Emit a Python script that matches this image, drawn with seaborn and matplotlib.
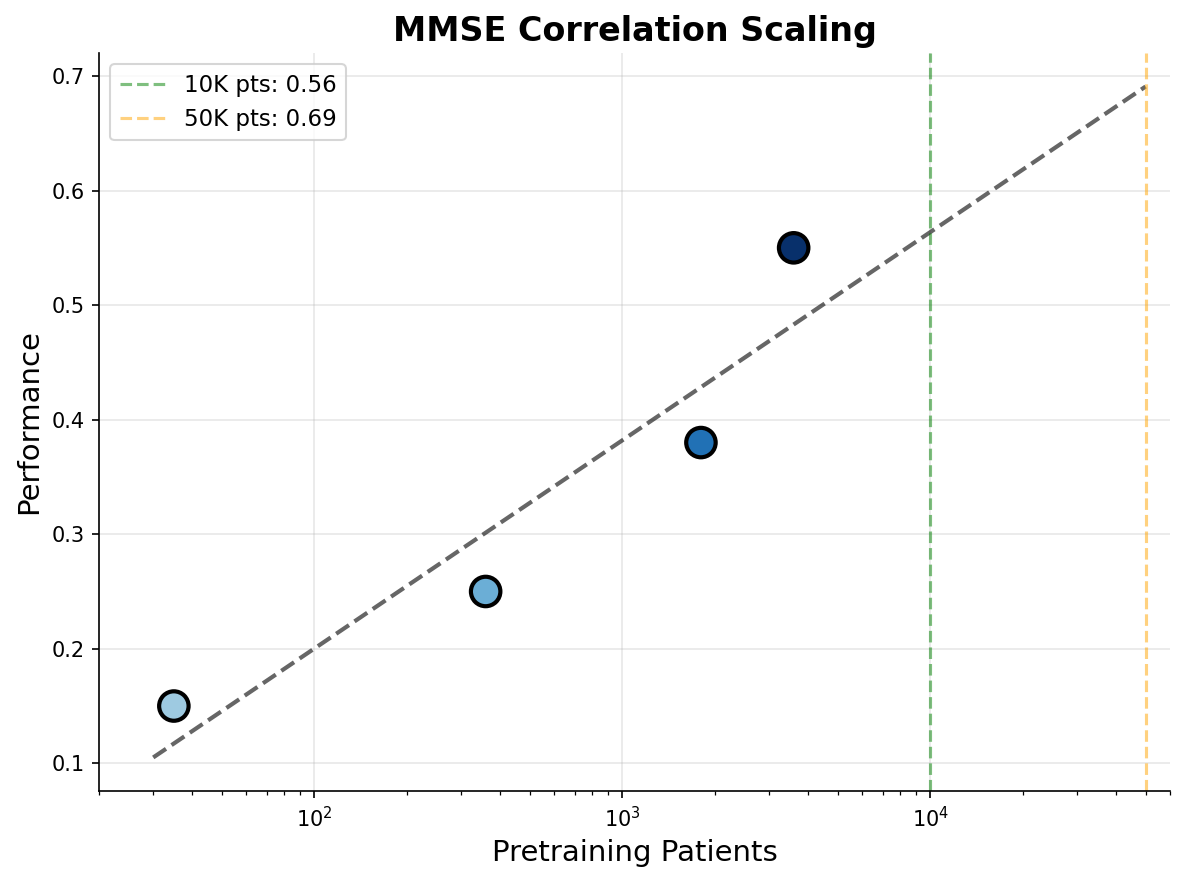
import numpy as np
import pandas as pd
import matplotlib
matplotlib.use("Agg")
import matplotlib.pyplot as plt
import seaborn as sns

# -------------------------------
# Data
# -------------------------------
patients = [35, 360, 1800, 3600]
performance = [0.15, 0.25, 0.38, 0.55]
point_colors = ['#9ecae1', '#6baed6', '#2171b5', '#08306b']
fit_range = [30, 50000]
proj_points = [10000, 50000]
proj_labels = ['10K pts', '50K pts']
proj_colors = ['green', 'orange']

df = pd.DataFrame({'patients': patients, 'performance': performance})

# -------------------------------
# Log-linear fit
# -------------------------------
slope, intercept = np.polyfit(np.log10(patients), performance, 1)
x_fit = np.logspace(np.log10(fit_range[0]), np.log10(fit_range[1]), 100)
y_fit = slope * np.log10(x_fit) + intercept

# -------------------------------
# Plot
# -------------------------------
fig, ax = plt.subplots(figsize=(1184 / 150, 883 / 150), dpi=150)

sns.scatterplot(data=df, x='patients', y='performance', hue='patients',
                palette=point_colors, s=200, edgecolor='black', linewidth=2,
                legend=False, zorder=5, ax=ax)
ax.plot(x_fit, y_fit, '--', color='black', alpha=0.6, linewidth=2)

for xp, lab, col in zip(proj_points, proj_labels, proj_colors):
    pred = slope * np.log10(xp) + intercept
    ax.axvline(xp, color=col, linestyle='--', alpha=0.5, linewidth=1.5,
               label=f'{lab}: {pred:.2f}')

ax.set_xscale('log')
ax.set_xlim(20, 60000)
ax.set_xlabel('Pretraining Patients', fontsize=14)
ax.set_ylabel('Performance', fontsize=14)
ax.set_title('MMSE Correlation Scaling', fontsize=16, fontweight='bold')
ax.grid(True, alpha=0.3)
ax.legend(loc='upper left', fontsize=11)
sns.despine(ax=ax)

fig.subplots_adjust(left=99 / 1184, right=1170 / 1184, top=1 - 53 / 883, bottom=1 - 791 / 883)
plt.savefig("out.png", dpi=150)
